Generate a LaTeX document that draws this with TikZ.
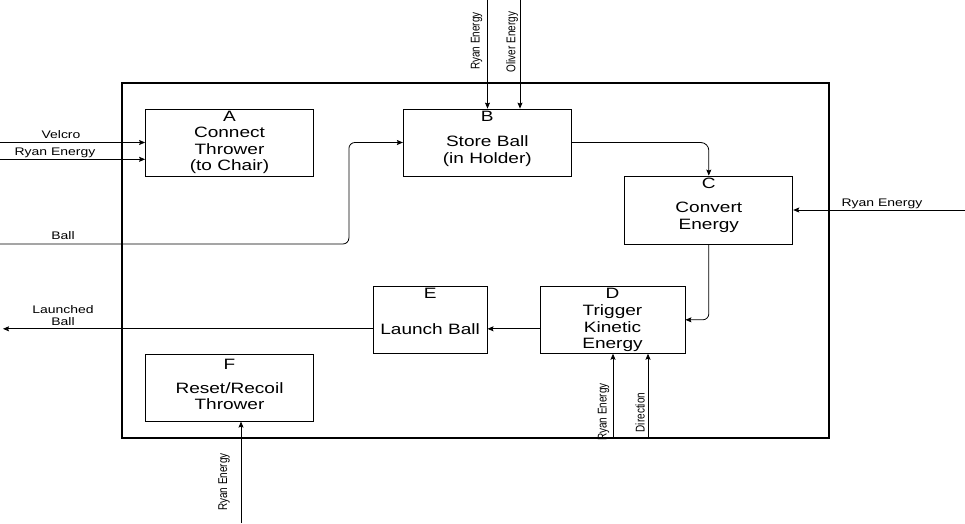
\documentclass[tikz,border=0pt]{standalone}
\usepackage{fontspec}
\setmainfont{Liberation Sans}[FakeStretch=1.27]
\newfontfamily\rotfont{Liberation Sans}[FakeStretch=0.787]
\usetikzlibrary{arrows.meta}
\begin{document}
\begin{tikzpicture}[x=1pt,y=-1pt,
  func/.style={draw, line width=0.8pt, inner sep=0pt, minimum height=67pt},
  ftext/.style={align=center, font=\fontsize{15}{16.7}\selectfont},
  fletter/.style={anchor=north, inner sep=2pt, font=\fontsize{15}{16.7}\selectfont},
  flow/.style={line width=0.8pt, -{Stealth[length=6pt,width=5pt,inset=1pt]}},
  lbl/.style={align=center, font=\fontsize{11}{12.5}\selectfont},
  vlbl/.style={rotate=90, inner sep=0pt, font=\rotfont\fontsize{12.7}{14}\selectfont}]
  \useasboundingbox (0,0) rectangle (965,523);
  % system boundary
  \node[draw, line width=2pt, inner sep=0pt, minimum width=706.5pt, minimum height=355pt] (sys) at (475.3,260.5) {};
  % functions
  \node[func, minimum width=168pt] (A) at (229.5,142.6) {};
  \node[func, minimum width=168pt] (B) at (487.3,142.5) {};
  \node[func, minimum width=168pt, minimum height=68pt] (C) at (708.8,210) {};
  \node[func, minimum width=145pt] (D) at (612.5,319.8) {};
  \node[func, minimum width=114pt] (E) at (430.1,319.8) {};
  \node[func, minimum width=168pt] (F) at (229.5,387.7) {};
  \node[fletter] (Al) at (A.north) {A};
  \node[fletter] (Bl) at (B.north) {B};
  \node[fletter] (Cl) at (C.north) {C};
  \node[fletter] (Dl) at (D.north) {D};
  \node[fletter] (El) at (E.north) {E};
  \node[fletter, inner sep=5pt] (Fl) at (F.north) {F};
  \node[ftext] (At) at ([yshift=-8pt]A.center) {Connect\\Thrower\\(to Chair)};
  \node[ftext] (Bt) at ([yshift=-8.5pt]B.center) {Store Ball\\(in Holder)};
  \node[ftext] (Ct) at ([yshift=-7pt]C.center) {Convert\\Energy};
  \node[ftext] (Dt) at ([yshift=-8.5pt]D.center) {Trigger\\Kinetic\\Energy};
  \node[ftext] (Et) at ([yshift=-9pt]E.center) {Launch Ball};
  \node[ftext] (Ft) at ([yshift=-8.5pt]F.center) {Reset/Recoil\\Thrower};
  % inputs on the left
  \coordinate (velin) at (0,142.5);
  \coordinate (ryanA) at (0,159.3);
  \coordinate (ballin) at (0,244);
  \draw[flow] (velin) -- (velin -| A.west);
  \draw[flow] (ryanA) -- (ryanA -| A.west);
  \draw[flow, rounded corners=6pt] (ballin) -| ([xshift=-54pt]B.west) -- (B.west);
  \node[lbl, anchor=base] (velcro) at (61,138) {Velcro};
  \node[lbl, anchor=base] (ryanAl) at (55,155.6) {Ryan Energy};
  \node[lbl, anchor=base] (balll) at (63,239.6) {Ball};
  % inputs from the top
  \coordinate (ryanB) at (487.5,0);
  \coordinate (olvB) at (520,0);
  \draw[flow] (ryanB) -- (ryanB |- B.north);
  \draw[flow] (olvB) -- (olvB |- B.north);
  \node[vlbl] (ryanBl) at (476.5,41) {Ryan Energy};
  \node[vlbl] (olvBl) at (512,42) {Oliver Energy};
  % flow between functions
  \draw[flow, rounded corners=8pt] (B.east) -| (C.north);
  \draw[flow, rounded corners=6pt] (C.south) |- (D.east);
  \draw[flow] ([yshift=-9pt]D.west) -- ([yshift=-9pt]E.east);
  % input on the right
  \coordinate (ryanC) at (965,210);
  \draw[flow] (ryanC) -- (C.east);
  \node[lbl, anchor=base] (ryanCl) at (882,206) {Ryan Energy};
  % output
  \coordinate (lbout) at (3,328.8);
  \draw[flow] (E.west |- lbout) -- (lbout);
  \node[lbl] (launched) at (63,315.5) {Launched\\Ball};
  % inputs from below
  \coordinate (ryanD) at (613,438);
  \coordinate (dirD) at (648,438);
  \coordinate (ryanF) at (241,523);
  \draw[flow] (ryanD) -- (ryanD |- D.south);
  \draw[flow] (dirD) -- (dirD |- D.south);
  \draw[flow] (ryanF) -- (ryanF |- F.south);
  \node[vlbl] (ryanDl) at (603.5,412) {Ryan Energy};
  \node[vlbl] (dirDl) at (640,412.5) {Direction};
  \node[vlbl] (ryanFl) at (224,482) {Ryan Energy};
\end{tikzpicture}
\end{document}
